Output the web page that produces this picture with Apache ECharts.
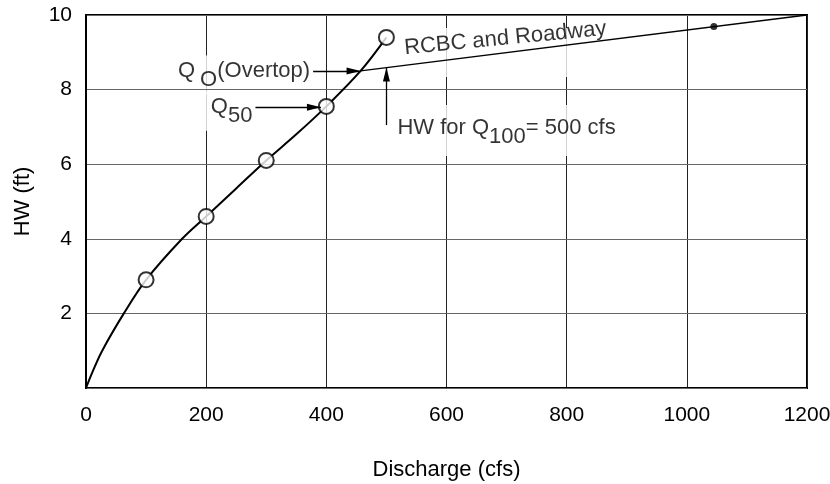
<!DOCTYPE html>
<html>
<head>
<meta charset="utf-8">
<script src="https://cdn.jsdelivr.net/npm/echarts@6/dist/echarts.min.js"></script>
<style>
  html, body { margin: 0; padding: 0; background: #fff; }
  #chart { width: 830px; height: 484px; }
</style>
</head>
<body>
<div id="chart"></div>
<script>
// Culvert headwater rating curve (HW vs discharge) with roadway overtopping.
const FONT = '"Liberation Sans", Arial, Helvetica, sans-serif';
const FS = 22;
const TICK_FS = 21;

// Rating curve for the RCBC alone
const curveQ  = [0, 10, 27, 63, 100, 160, 200, 250, 300, 350, 400, 457, 500];
const curveHW = [0, 0.4, 1.0, 2.0, 2.9, 4.0, 4.6, 5.35, 6.1, 6.8, 7.55, 8.5, 9.4];

// Computed points (open circles)
const pointQ  = [100, 200, 300, 400, 500];
const pointHW = [2.9, 4.6, 6.1, 7.55, 9.4];

// Combined RCBC and roadway flow above the overtopping elevation
const roadQ  = [457, 1200];
const roadHW = [8.5, 10];

// Marked point on the combined curve
const dotQ  = [1045];
const dotHW = [9.69];

// Annotation arrows: [from, to] in (cfs, ft)
const arrowOvertop = [[378, 8.5], [457, 8.5]];
const arrowQ50     = [[282, 7.53], [391, 7.53]];
const arrowQ100    = [[500, 7.05], [500, 8.59]];

// Anchor for the roadway caption
const roadCaption = [698, 9.37];

// Axis settings
const xMin = 0, xMax = 1200, xStep = 200;
const yMin = 0, yMax = 10, yStep = 2;

const zip = (a, b) => a.map((v, i) => [v, b[i]]);

const chart = echarts.init(document.getElementById('chart'), null, { renderer: 'canvas' });

const textBase = { fontFamily: FONT, fontSize: FS, color: '#000', verticalAlign: 'top' };
const subBase  = { fontFamily: FONT, fontSize: FS, color: '#000', verticalAlign: 'top', padding: [9, 0, 0, 0] };
const subGap   = Object.assign({}, subBase, { padding: [9, 0, 0, 5] });

const noteLabel = (extra) => Object.assign({
  show: true,
  backgroundColor: '#fff',
  color: '#000',
  fontFamily: FONT,
  fontSize: FS,
  rich: { m: textBase, s: subBase, g: subGap }
}, extra);

const notes = [
  {
    value: arrowOvertop[0],
    label: noteLabel({ position: 'left', distance: 1, offset: [0, 4], padding: [4, 2, 4, 12],
      formatter: '{m|Q}{g|O}{m|(Overtop)}' })
  },
  {
    value: arrowQ50[0],
    label: noteLabel({ position: 'left', distance: 1, offset: [0, 4], padding: [4, 2, 4, 12],
      formatter: '{m|Q}{s|50}' })
  },
  {
    // white backing behind the roadway caption
    value: roadCaption,
    label: noteLabel({ position: 'inside', offset: [-2, 14], width: 212, height: 49, padding: 0,
      formatter: ' ' })
  },
  {
    value: roadCaption,
    label: noteLabel({ position: 'inside', rotate: 5.5, padding: 0, backgroundColor: 'transparent',
      formatter: '{m|RCBC and Roadway}' })
  },
  {
    value: arrowQ100[0],
    label: noteLabel({ position: [9, -20], padding: [12, 6, 8, 2],
      formatter: '{m|HW for Q}{s|100}{m|= 500 cfs}' })
  }
];

// Filled arrowhead; offset so its tip lands on the end coordinate
const arrowHead = 'path://M5,0 L10,22 L0,22 Z';
const arrowEnd = { symbol: arrowHead, symbolSize: [7, 14], symbolOffset: [0, 7] };

chart.setOption({
  animation: false,
  grid: {
    left: 86, right: 23, top: 15, bottom: 96,
    outerBoundsMode: 'none', containLabel: false,
    show: true, borderColor: '#000', borderWidth: 2, backgroundColor: 'transparent'
  },
  xAxis: {
    type: 'value', min: xMin, max: xMax, interval: xStep, z: 0,
    name: 'Discharge (cfs)', nameLocation: 'middle', nameGap: 71,
    nameTextStyle: { fontFamily: FONT, fontSize: FS, color: '#000' },
    axisLine: { show: true, lineStyle: { color: '#000', width: 2 } },
    axisTick: { show: false },
    axisLabel: { margin: 17, fontFamily: FONT, fontSize: TICK_FS, color: '#000',
      formatter: (v) => String(v) },
    splitLine: { show: true, lineStyle: { color: '#222', width: 1 } }
  },
  yAxis: {
    // drawn above the caption backings so horizontal rules stay continuous
    type: 'value', min: yMin, max: yMax, interval: yStep, z: 2,
    name: 'HW (ft)', nameLocation: 'middle', nameGap: 52,
    nameTextStyle: { fontFamily: FONT, fontSize: FS, color: '#000' },
    axisLine: { show: true, lineStyle: { color: '#000', width: 2 } },
    axisTick: { show: false },
    axisLabel: { margin: 14, fontFamily: FONT, fontSize: TICK_FS, color: '#000', showMinLabel: false,
      formatter: (v) => (v === yMin ? '' : String(v)) },
    splitLine: { show: true, lineStyle: { color: '#666', width: 1 } }
  },
  series: [
    {
      name: 'notes', type: 'scatter', z: 1, silent: true,
      symbolSize: 0, data: notes
    },
    {
      name: 'RCBC', type: 'line', z: 3, silent: true,
      data: zip(curveQ, curveHW), smooth: 0.35, symbol: 'none',
      lineStyle: { color: '#000', width: 2 }
    },
    {
      name: 'RCBC and Roadway', type: 'line', z: 3, silent: true,
      data: zip(roadQ, roadHW), symbol: 'none',
      lineStyle: { color: '#000', width: 1.3 },
      markLine: {
        silent: true, symbol: 'none',
        label: { show: false },
        lineStyle: { color: '#000', width: 1.3, type: 'solid' },
        emphasis: { disabled: true },
        data: [arrowOvertop, arrowQ50, arrowQ100].map(a => [
          { coord: a[0], symbol: 'none' },
          Object.assign({ coord: a[1] }, arrowEnd)
        ])
      }
    },
    {
      name: 'computed', type: 'scatter', z: 4, silent: true,
      data: zip(pointQ, pointHW), symbol: 'emptyCircle', symbolSize: 15,
      itemStyle: { color: '#000', borderWidth: 1 }
    },
    {
      name: 'marked', type: 'scatter', z: 4, silent: true,
      data: zip(dotQ, dotHW), symbol: 'circle', symbolSize: 7,
      itemStyle: { color: '#000' }
    }
  ]
});
</script>
</body>
</html>
